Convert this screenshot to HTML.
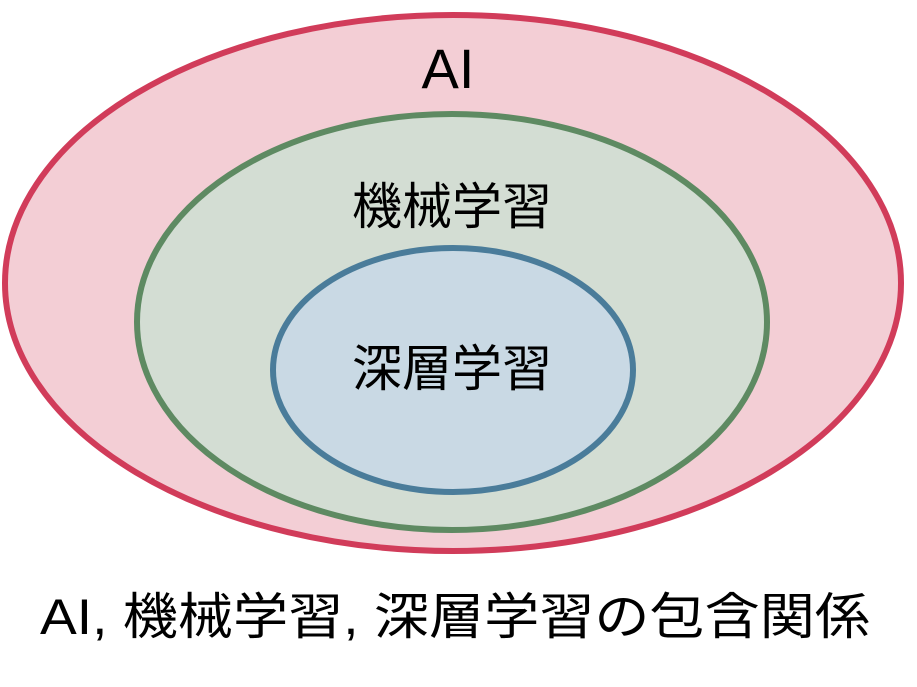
<!DOCTYPE html>
<html><head><meta charset="utf-8"><style>
html,body{margin:0;padding:0;background:#fff;width:917px;height:687px;overflow:hidden}
svg text{font-family:"Liberation Sans","Noto Sans CJK JP",sans-serif;fill:#000}
</style></head><body>
<svg width="917" height="687" viewBox="0 0 917 687" xmlns="http://www.w3.org/2000/svg">
<ellipse cx="453" cy="283" rx="448" ry="268" fill="#f3ced5" stroke="#d13c5a" stroke-width="6"/>
<ellipse cx="452" cy="322" rx="315" ry="208" fill="#d3ddd3" stroke="#5e8a62" stroke-width="6"/>
<ellipse cx="453" cy="370" rx="180" ry="122" fill="#c9d9e4" stroke="#4a7c9a" stroke-width="6"/>
<text x="448" y="88" font-size="56" text-anchor="middle">AI</text>
<text x="452" y="224" font-size="50" text-anchor="middle">機械学習</text>
<text x="452" y="386" font-size="50" text-anchor="middle">深層学習</text>
<text x="40" y="634" font-size="50" textLength="830" lengthAdjust="spacingAndGlyphs">AI, 機械学習, 深層学習の包含関係</text>
</svg>
</body></html>
